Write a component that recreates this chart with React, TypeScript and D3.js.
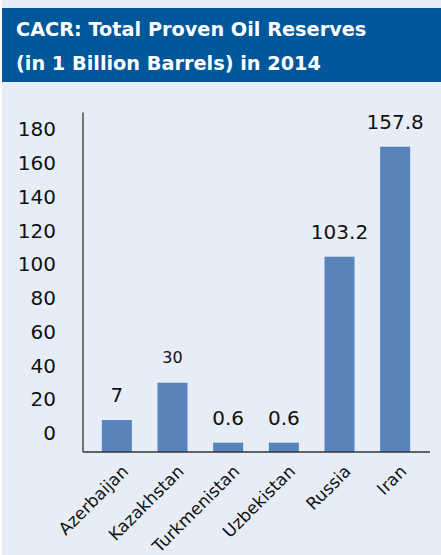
import React from "react";
import * as d3 from "d3";

const categories = ["Azerbaijan", "Kazakhstan", "Turkmenistan", "Uzbekistan", "Russia", "Iran"];
// bar heights as drawn in the picture (read against the printed tick labels)
const barValues = [7.7, 29.8, -5.7, -5.7, 104.4, 169.5];
// data labels as printed
const dataLabels = ["7", "30", "0.6", "0.6", "103.2", "157.8"];
const labelSizes = [20, 16, 20, 20, 20, 20];
const tickValues = [0, 20, 40, 60, 80, 100, 120, 140, 160, 180];
const titleLines = ["CACR: Total Proven Oil Reserves", "(in 1 Billion Barrels) in 2014"];

const W = 441;
const H = 555;
const FONT = "'DejaVu Sans', Verdana, sans-serif";

export default function App() {
  const x = d3.scaleBand<string>().domain(categories).range([89, 423]).paddingInner(0.46).paddingOuter(0.23);
  const y = d3.scaleLinear().domain([-11.2, 180]).range([452, 129]);
  const baseY = 452;
  const bw = 30;

  return (
    <svg width={W} height={H} style={{ position: "fixed", left: 0, top: 0 }} fontFamily={FONT}>
      <rect x={2} y={0} width={W - 2} height={H} fill="#e6edf7" />
      <rect x={2} y={8} width={W - 2} height={74} fill="#00579a" />
      {titleLines.map((t, i) => (
        <text key={i} x={16} y={36 + i * 34} fill="#ffffff" fontWeight="bold" fontSize={19.3}>
          {t}
        </text>
      ))}
      {tickValues.map((t) => (
        <text key={t} x={56} y={y(t)} dy="0.36em" textAnchor="end" fontSize={20} fill="#111">
          {t}
        </text>
      ))}
      {categories.map((c, i) => {
        const cx = (x(c) as number) + x.bandwidth() / 2;
        const top = y(barValues[i]);
        return (
          <g key={c}>
            <rect x={cx - bw / 2} y={top} width={bw} height={baseY - top} fill="#5884bb" />
            <text x={cx} y={top - 25} dy="0.36em" textAnchor="middle" fontSize={labelSizes[i]} fill="#111">
              {dataLabels[i]}
            </text>
            <text
              transform={`translate(${cx + 4},${baseY + 12}) rotate(-45)`}
              textAnchor="end"
              dy="0.7em"
              fontSize={17}
              fill="#111"
            >
              {c}
            </text>
          </g>
        );
      })}
      <line x1={83} x2={83} y1={112.5} y2={baseY} stroke="#333" strokeWidth={1.3} />
      <line x1={83} x2={430} y1={baseY} y2={baseY} stroke="#333" strokeWidth={1.3} />
    </svg>
  );
}
